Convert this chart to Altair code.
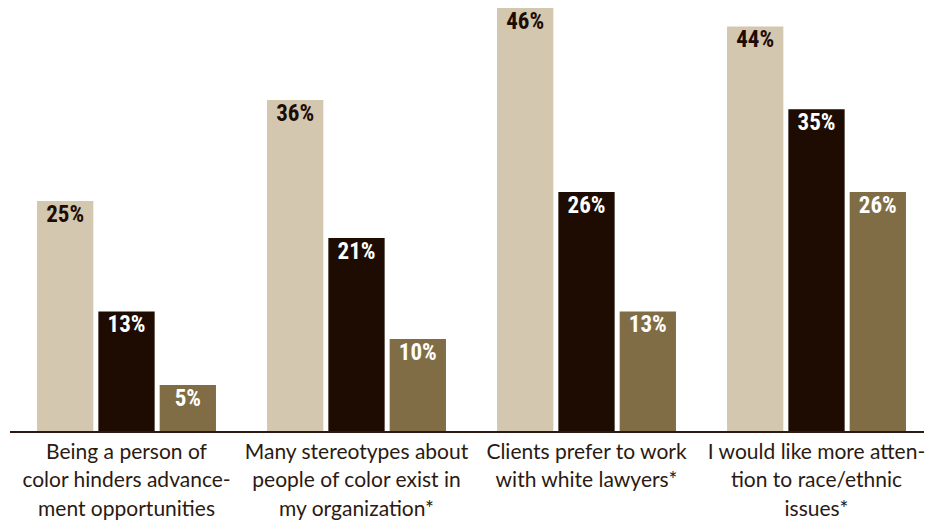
import altair as alt
import pandas as pd

categories = [
    "Being a person of|color hinders advance-|ment opportunities",
    "Many stereotypes about|people of color exist in|my organization*",
    "Clients prefer to work|with white lawyers*",
    "I would like more atten-|tion to race/ethnic|issues*",
]
series = ["Series 1", "Series 2", "Series 3"]
values_s1 = [25, 36, 46, 44]
values_s2 = [13, 21, 26, 35]
values_s3 = [5, 10, 13, 26]

colors = ["#d3c7b0", "#1e0c02", "#806d46"]
ink = "#1e0c02"

rows = []
for s, vals in zip(series, [values_s1, values_s2, values_s3]):
    for c, v in zip(categories, vals):
        rows.append({"category": c, "series": s, "value": v})
df = pd.DataFrame(rows)

x_enc = alt.X(
    "category:N",
    sort=categories,
    scale=alt.Scale(paddingInner=0.222, paddingOuter=0.111),
    axis=alt.Axis(
        title=None,
        labelAngle=0,
        domain=False,
        ticks=False,
        labelExpr="split(datum.label, '|')",
        labelFont="Lato",
        labelFontSize=21,
        labelLineHeight=28.5,
        labelColor="#2a1a12",
        labelPadding=10,
        labelBaseline="top",
        labelLimit=0,
    ),
)
xoff = alt.XOffset(
    "series:N", sort=series, scale=alt.Scale(paddingInner=0.082, paddingOuter=0)
)
y_enc = alt.Y(
    "value:Q",
    scale=alt.Scale(domain=[0, 46], nice=False, zero=True),
    axis=None,
)

base = alt.Chart(df)

bars = base.mark_bar().encode(
    x=x_enc,
    xOffset=xoff,
    y=y_enc,
    color=alt.Color("series:N", sort=series, scale=alt.Scale(domain=series, range=colors), legend=None),
)

labels = base.transform_calculate(
    label="format(datum.value, 'd') + '%'"
).mark_text(
    font="Noto Sans ExtraCondensed, Noto Sans Condensed, Roboto Condensed, DejaVu Sans Condensed, sans-serif",
    fontWeight="bold",
    fontSize=23,
    baseline="alphabetic",
    dy=21,
).encode(
    x=alt.X("category:N", sort=categories),
    xOffset=alt.XOffset("series:N", sort=series),
    y=alt.Y("value:Q"),
    text="label:N",
    color=alt.condition(alt.datum.series == series[0], alt.value(ink), alt.value("white")),
)

baseline = alt.Chart(pd.DataFrame({"v": [0]})).mark_rule(
    color="#2b1a12", strokeWidth=2
).encode(
    x=alt.value(-1.5),
    x2=alt.value(912.5),
    y=alt.value(424),
)

chart = (
    alt.layer(bars, labels, baseline)
    .properties(
        width=920,
        height=423,
        autosize=alt.AutoSizeParams(type="none"),
        padding={"left": 3.5, "top": 0, "right": 10, "bottom": 92},
        view=alt.ViewBackground(stroke="transparent", strokeWidth=0),
    )
    .configure_view(strokeWidth=0, stroke="transparent")
    .configure(background="white")
)

chart.save("out.html", embed_options={"renderer": "svg", "actions": False})
